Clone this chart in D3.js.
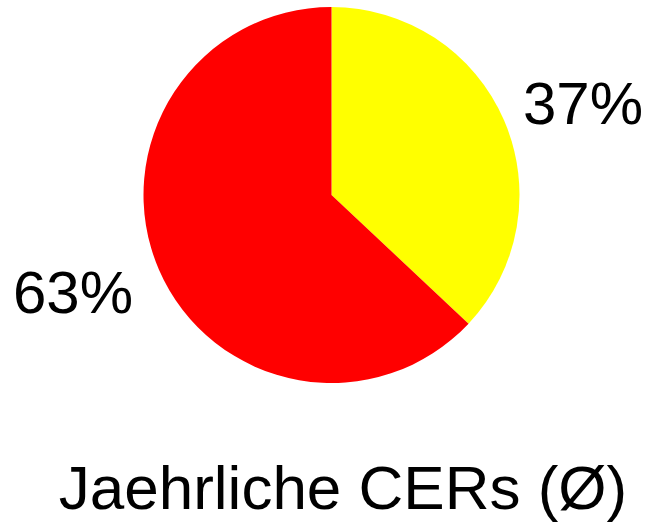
<!DOCTYPE html>
<html><head><meta charset="utf-8">
<script src="https://cdn.jsdelivr.net/npm/d3@7"></script>
<style>html,body{margin:0;padding:0;background:#fff;}</style>
</head><body>
<script>
const categories = ["A", "B"];
const values = [37, 63];
const labels = ["37%", "63%"];
const colors = ["#FFFF00", "#FF0000"];
const title = "Jaehrliche CERs (Ø)";

const W = 652, H = 525;
const svg = d3.select("body").append("svg").attr("width", W).attr("height", H);
const cx = 331.5, cy = 195, r = 188;
const pie = d3.pie().sort(null).value(d => d)(values);
const arc = d3.arc().innerRadius(0).outerRadius(r);
const g = svg.append("g").attr("transform", `translate(${cx},${cy})`);
g.selectAll("path").data(pie).enter().append("path")
  .attr("d", arc).attr("fill", (d, i) => colors[i]);

const font = "'Liberation Sans', Arial, sans-serif";
const labelPos = [[583, 124], [73, 313]];
svg.selectAll("text.lbl").data(labels).enter().append("text")
  .attr("class", "lbl")
  .attr("x", (d, i) => labelPos[i][0]).attr("y", (d, i) => labelPos[i][1])
  .attr("text-anchor", "middle").attr("font-family", font).attr("font-size", 60)
  .attr("fill", "#000").text(d => d);
svg.append("text").attr("x", 343).attr("y", 509).attr("text-anchor", "middle")
  .attr("font-family", font).attr("font-size", 62).attr("fill", "#000").text(title);
</script>
</body></html>
